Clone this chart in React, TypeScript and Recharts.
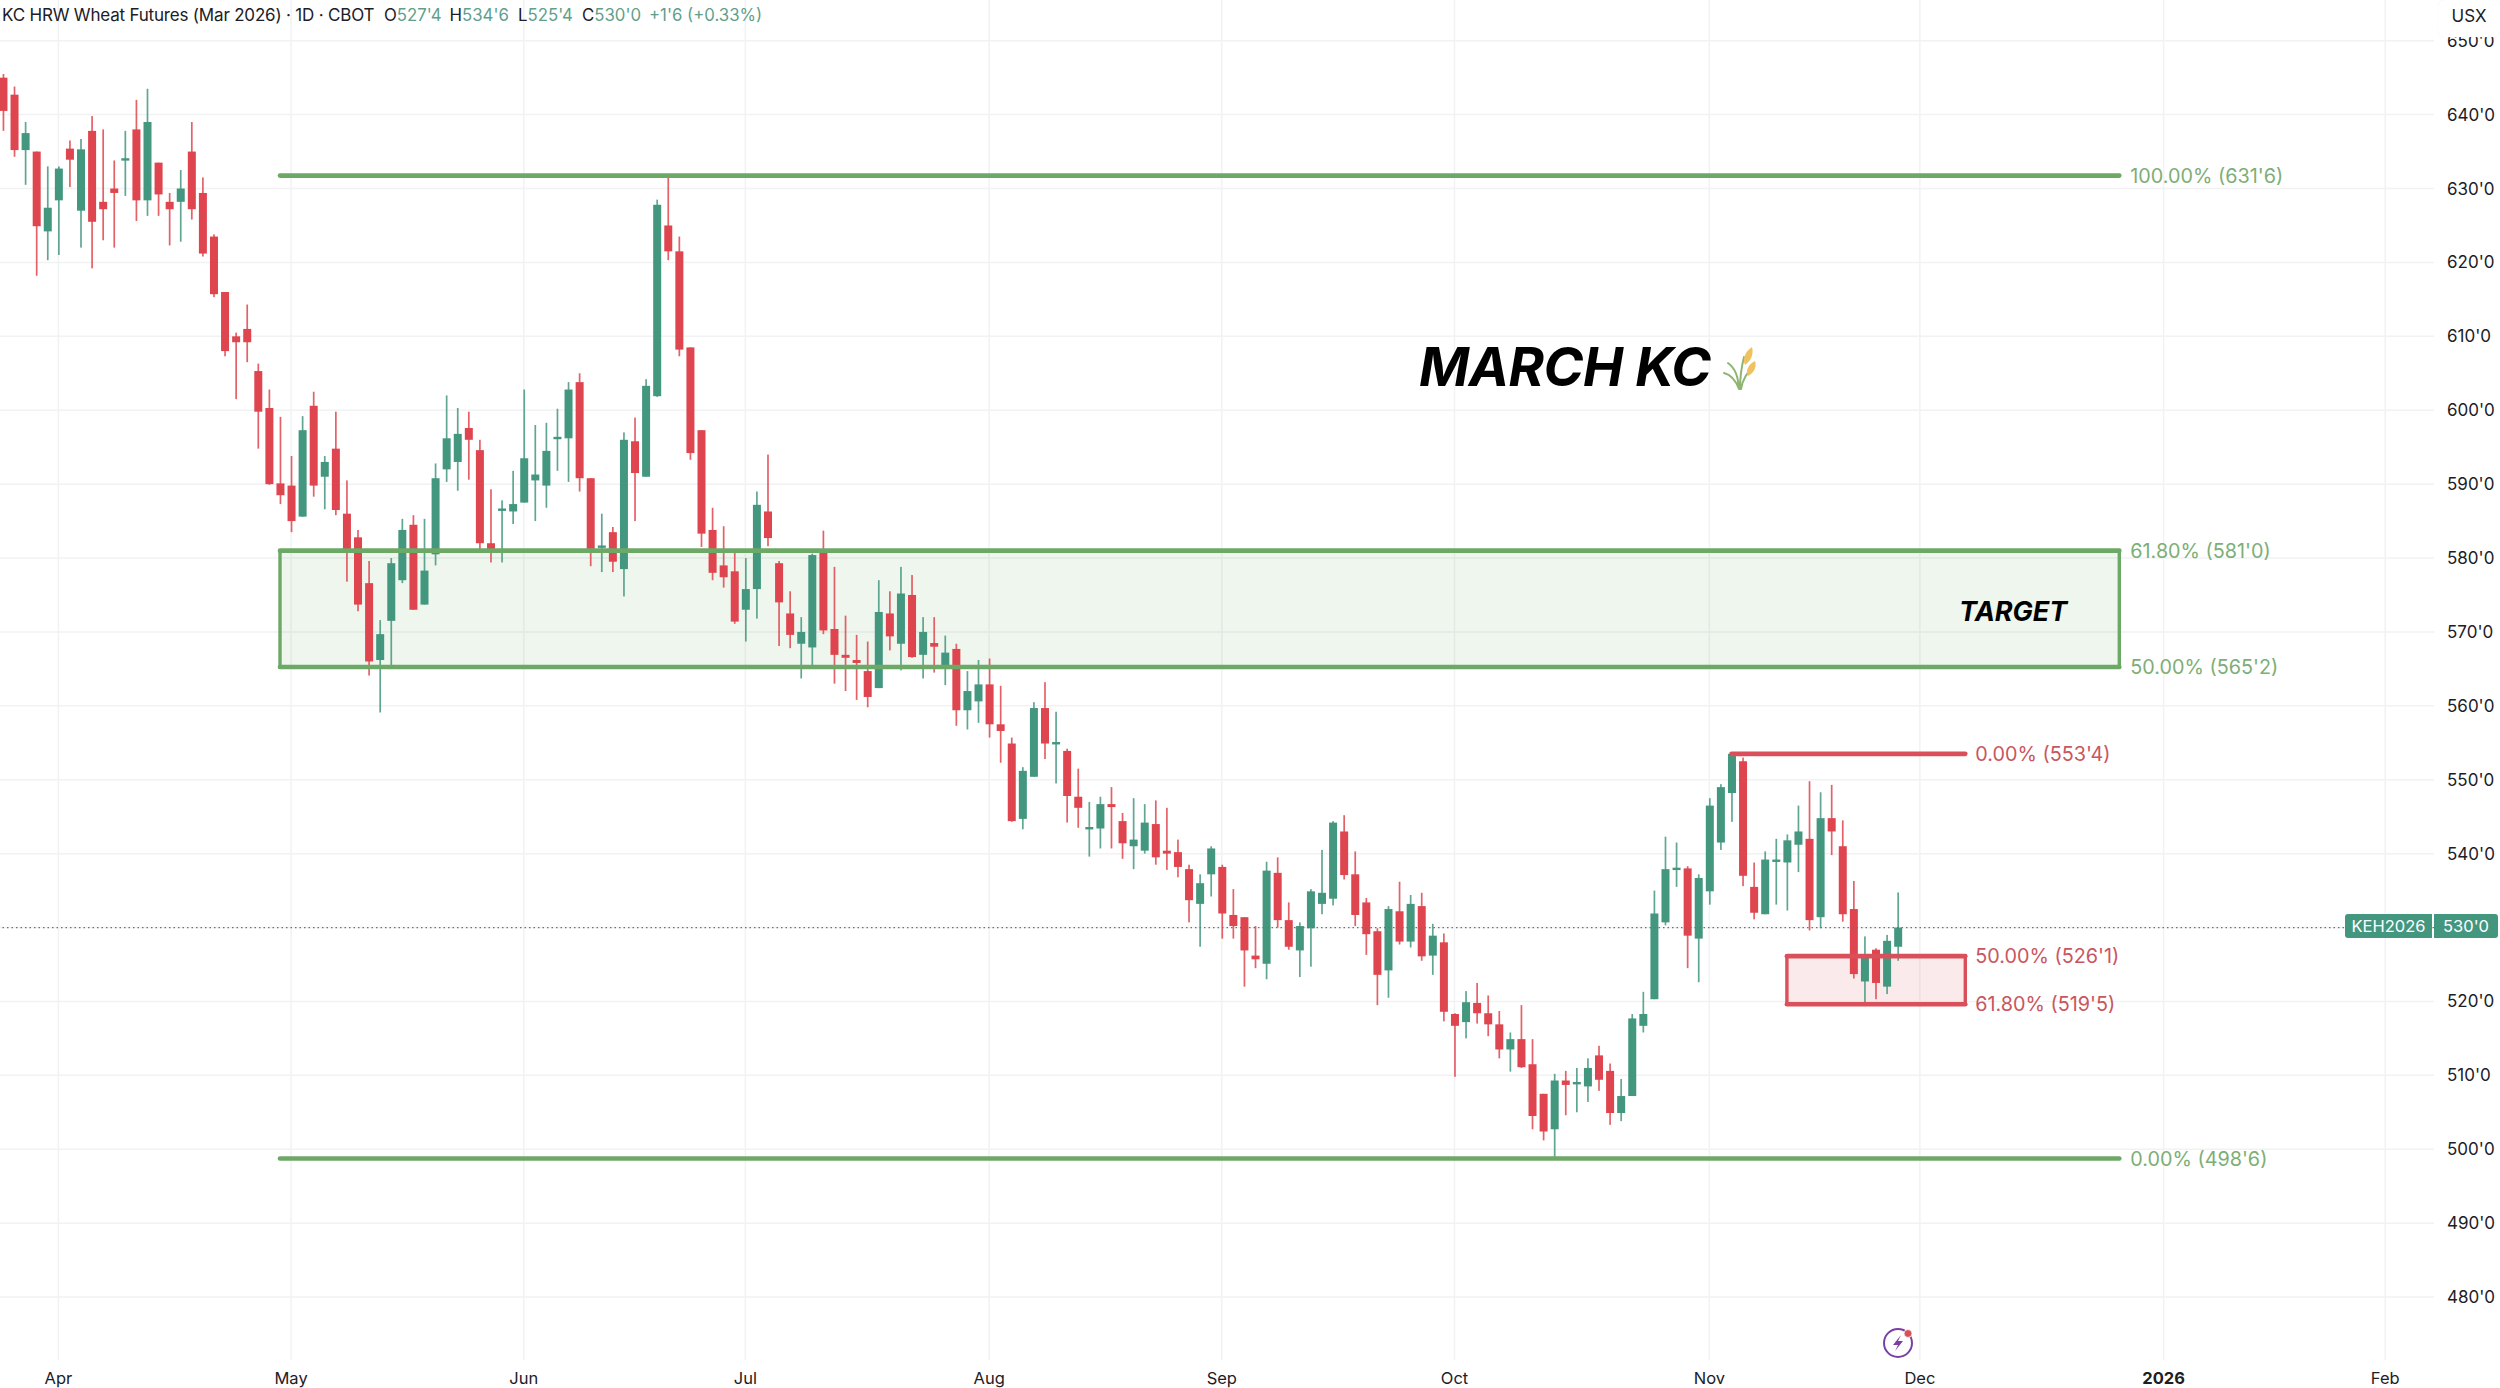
import {
  ComposedChart,
  Bar,
  XAxis,
  YAxis,
  CartesianGrid,
  ReferenceArea,
  ReferenceLine,
} from "recharts";

const FONT = "Inter, 'Noto Sans', sans-serif";
const UP = "#44977f";
const DOWN = "#df454e";
const FIB_GREEN = "#6ca866";
const FIB_RED = "#d9505a";

// one entry per daily session, first visible bar is mid March 2025
const opens = [
  645, 642.7, 635.2, 635, 624.2, 628.4, 635.4, 627, 637.8, 628.2, 630, 634, 638, 628.4, 633.5, 628.2, 628.2, 635, 629.4, 623.5,
  616, 610, 611, 605.3, 600.3, 590.1, 589.8, 585.6, 600.6, 591, 594.8, 586, 582.8, 576.6, 566.2, 571.5, 577, 584.5, 573.7, 580.5,
  592, 593, 597.6, 594.6, 582, 586.5, 586.3, 587.5, 590.5, 589.8, 596.2, 596.2, 603.8, 590.8, 581.5, 583.5, 578.5, 595.8, 591, 601.9,
  625, 621.5, 608.5, 597.3, 583.8, 579, 578.2, 573, 575.8, 586.3, 579.3, 572.5, 568.4, 567.9, 580.7, 570.4, 566.9, 566.2, 564.7, 562.4,
  572.5, 568.4, 575, 566.9, 568.5, 565, 567.7, 559.4, 560.6, 562.9, 557.5, 554.9, 544.7, 550.4, 559.7, 555, 553.9, 547.7, 543.4, 543.4,
  546.7, 544.4, 541, 540.4, 544, 540.4, 540.2, 537.9, 533.2, 537.2, 538.2, 531.7, 531.4, 526.2, 525.1, 537.4, 531, 526.9, 529.9, 533.2,
  533.9, 543, 537.2, 533.4, 529.5, 524.2, 532.2, 528.1, 532.9, 526.2, 528, 518.3, 517.2, 519.8, 518.4, 516.9, 513.5, 514.9, 511.5, 507.5,
  502.7, 509.3, 509, 508.5, 512.7, 510.6, 504.9, 507.2, 516.7, 520.3, 530.7, 538, 538, 528.5, 534.9, 541.5, 548.2, 552.5, 535.5, 531.8,
  539, 538.8, 541.2, 542, 531.4, 544.8, 541, 532.5, 522.7, 527, 522, 527.4,
];
const highs = [
  645.5, 643.8, 639, 635, 633, 633, 636.5, 636.7, 639.8, 638, 633.8, 637.8, 642, 643.5, 633.5, 629.4, 632.5, 639, 631.5, 623.8,
  616, 610.5, 614.3, 606.3, 602.8, 599.1, 593.8, 599.2, 602.5, 593.8, 599.8, 590.5, 583.8, 579.6, 571.6, 580, 585.3, 585.8, 585.3, 592.8,
  602, 600.3, 599.8, 596, 589.3, 587.8, 591.8, 602.8, 598, 598.3, 600.2, 603.8, 605, 590.8, 586, 584.2, 597, 599, 604.2, 628.5,
  631.75, 623.5, 608.5, 597.3, 586.8, 584.3, 580.9, 580, 589, 594, 579.6, 575.5, 572, 580.6, 583.7, 578.8, 572.2, 569.6, 568.7, 577,
  575.5, 578.8, 577.7, 572, 572, 569.5, 568.4, 564.7, 566.2, 566.4, 562.7, 555.7, 551.7, 560.5, 563.2, 559.2, 554.2, 551.5, 547, 547.7,
  549, 545.5, 547.5, 546.7, 547.2, 546.2, 541.9, 538.5, 537.2, 541, 538.5, 535.2, 531.4, 530.2, 538.9, 539.5, 533.4, 530.7, 535.2, 540.5,
  544.4, 545.2, 540.3, 534, 529.9, 532.9, 536.2, 534.4, 534.7, 530.5, 529.2, 518.4, 521.4, 522.5, 520.8, 518.7, 515.8, 519.5, 514.9, 507.5,
  510.2, 510.6, 511, 512.3, 514, 511.6, 509.5, 518.3, 521.3, 535, 542.3, 541.5, 538.3, 537.2, 547.5, 549.4, 553.5, 553, 538.8, 540.3,
  542, 542.6, 546.5, 549.8, 548.3, 549.3, 544.5, 536.3, 528.8, 527.2, 529, 534.75,
];
const lows = [
  637.8, 634.3, 630.5, 618.2, 620.3, 621, 630.2, 622, 619.2, 623, 622, 629, 625.6, 626.3, 626.3, 622.3, 622.8, 625.8, 620.8, 615.3,
  607.3, 601.5, 606.5, 594.8, 589.9, 587.3, 583.5, 585.6, 588.3, 586.6, 585.8, 576.8, 572.8, 564.1, 559.1, 565.4, 576.6, 573, 573.7, 579,
  590.3, 589.1, 590.6, 581.2, 579.4, 579.4, 584.6, 587.5, 585, 586.8, 591.8, 590.3, 589, 578.9, 578.1, 578.1, 574.8, 585, 591, 601.8,
  620.3, 607.3, 593.3, 581.5, 577, 576, 571.1, 568.7, 571.8, 581.6, 568.1, 567.8, 563.7, 565.4, 569.7, 563, 562, 560.8, 559.8, 562.4,
  567.5, 564.8, 566.5, 563.7, 564.5, 562.8, 557.3, 556.8, 557.7, 555.7, 552.3, 544.3, 543.3, 550.4, 552.8, 549.5, 544.2, 543.5, 539.6, 540.7,
  540.7, 539.3, 537.9, 540, 538.5, 537.8, 536.8, 530.7, 527.4, 534.2, 528.5, 528.5, 522, 524.5, 523, 530, 527, 523.3, 524.7, 531.8,
  533, 536.5, 530.2, 526.3, 519.5, 520.5, 527.7, 527.3, 525.5, 523.6, 517.3, 509.8, 515, 517, 515.3, 512.3, 510.5, 511, 502.7, 501.2,
  498.75, 504.6, 505, 506.4, 507.9, 503.3, 503.8, 507.2, 515.8, 520.3, 530.3, 535.5, 524.5, 522.6, 533.1, 540.5, 544.3, 535.6, 531.1, 531.8,
  533.1, 532.3, 537.5, 529.6, 529.9, 539.8, 530.8, 523.1, 519.8, 520.3, 521, 525.5,
];
const closes = [
  640.5, 635.2, 637.5, 624.9, 627.4, 632.7, 633.9, 635.3, 625.5, 627.2, 629.4, 634.1, 628.4, 639, 629.2, 627.2, 630, 627.2, 621.2, 615.7,
  608, 609.2, 609.2, 599.8, 590, 588.5, 585, 597.3, 589.8, 593, 586.5, 580.8, 573.7, 566, 569.7, 579.3, 583.8, 573, 578.3, 590.8,
  596.2, 596.8, 596, 582, 581.2, 586.7, 587.3, 593.5, 591.3, 594.5, 596.4, 602.8, 590.8, 580.8, 581.7, 579.5, 596, 591.5, 603.3, 627.8,
  621.5, 608.2, 594.2, 583.3, 578, 577.4, 571.4, 575.8, 587.2, 582.7, 574, 569.6, 570, 580.4, 570.2, 566.9, 566.5, 565.8, 561.2, 572.7,
  569.4, 575.2, 566.6, 570, 568, 567.2, 559.4, 562, 562.9, 557.5, 556.6, 544.4, 551.2, 559.7, 554.9, 555.1, 547.8, 546.2, 543.6, 546.7,
  546.3, 541.4, 541.9, 544.2, 539.5, 540, 538.2, 533.7, 536, 540.7, 531.9, 530.2, 526.9, 525.7, 537.7, 531, 527.4, 530.2, 534.9, 534.7,
  544.2, 537.1, 531.7, 529.1, 523.6, 532.5, 528.1, 533.2, 526.1, 528.9, 518.6, 516.7, 519.9, 518.4, 516.9, 513.5, 514.9, 511.1, 504.5, 502.4,
  509.3, 508.7, 509.1, 511, 509.4, 504.9, 507.2, 517.7, 518.3, 531.9, 537.9, 538.1, 528.9, 536.7, 546.5, 549, 553.5, 537, 532, 539.2,
  539.2, 541.8, 543, 531, 544.8, 543, 531.8, 523.7, 526.3, 522.5, 528.2, 530,
];

// axis ticks, x values are session numbers. 530 has no axis label, the price tag sits there
const gridPrices = [480, 490, 500, 510, 520, 530, 540, 550, 560, 570, 580, 590, 600, 610, 620, 630, 640, 650];
const priceTicks = [480, 490, 500, 510, 520, 540, 550, 560, 570, 580, 590, 600, 610, 620, 630, 640, 650];
const monthTicks = [5, 26, 47, 67, 89, 110, 131, 154, 173, 195, 215];
const monthLabels = ["Apr", "May", "Jun", "Jul", "Aug", "Sep", "Oct", "Nov", "Dec", "2026", "Feb"];

// fib levels drawn on the chart
const greenFibLevels = [631.75, 581, 565.25, 498.75];
const greenFibLabels = ["100.00% (631'6)", "61.80% (581'0)", "50.00% (565'2)", "0.00% (498'6)"];
const greenFibSpan = [25, 191];
const redFibLevels = [553.5, 526.125, 519.625];
const redFibLabels = ["0.00% (553'4)", "50.00% (526'1)", "61.80% (519'5)"];
const redFibStarts = [156, 161, 161];
const redFibEnd = 177.1;
const lastPrice = 530;

const candles = opens.map((open, i) => ({
  session: i,
  open,
  close: closes[i],
  high: highs[i],
  low: lows[i],
  range: [lows[i], highs[i]],
}));

const Candle = (props: any) => {
  const { x, y, width, height, payload } = props;
  const { open, close, high, low } = payload;
  const perUnit = height / (high - low);
  const color = close >= open ? UP : DOWN;
  const top = y + (high - Math.max(open, close)) * perUnit;
  const bodyHeight = Math.max(Math.abs(open - close) * perUnit, 2.4);
  const mid = x + width / 2;
  return (
    <g>
      <rect x={mid - 0.85} y={y} width={1.7} height={height} fill={color} fillOpacity={0.85} />
      <rect x={mid - 4} y={top} width={8} height={bodyHeight} fill={color} />
    </g>
  );
};

const headerStats = [
  { key: "O", value: "527'4", left: 384 },
  { key: "H", value: "534'6", left: 449.5 },
  { key: "L", value: "525'4", left: 518 },
  { key: "C", value: "530'0", left: 582 },
];

const MonthTick = (props: any) => {
  const { x, y, payload } = props;
  const label = monthLabels[monthTicks.indexOf(payload.value)];
  return (
    <text
      x={x}
      y={y}
      dy={16}
      textAnchor="middle"
      fontFamily={FONT}
      fontSize={16.5}
      fontWeight={label === "2026" ? 700 : 400}
      fill="#1c2026"
    >
      {label}
    </text>
  );
};

const fibLabel = (value: string, fill: string, offset: number) => ({
  value,
  position: "right" as const,
  fill,
  fontSize: 19.8,
  fontFamily: FONT,
  offset,
});

const App = () => {
  return (
    <div style={{ position: "fixed", left: 0, top: 0, width: 2500, height: 1388, background: "#fff", overflow: "hidden", fontFamily: FONT }}>
      <ComposedChart
        width={2500}
        height={1388}
        data={candles}
        margin={{ top: 0, right: 0, bottom: 0, left: 0 }}
        barSize={8}
      >
        <CartesianGrid
          stroke="#f1f2f4"
          strokeWidth={1.5}
          horizontalValues={gridPrices}
          verticalValues={monthTicks}
        />
        <XAxis
          dataKey="session"
          type="number"
          domain={[-0.27, 219.4]}
          allowDataOverflow
          ticks={monthTicks}
          interval={0}
          tick={<MonthTick />}
          axisLine={false}
          tickLine={false}
          height={28}
        />
        <YAxis
          orientation="right"
          type="number"
          domain={[471.48, 655.51]}
          allowDataOverflow
          ticks={priceTicks}
          interval={0}
          width={66}
          axisLine={false}
          tickLine={false}
          tickMargin={7}
          tick={{ fill: "#1c2026", fontSize: 17, fontFamily: FONT }}
          tickFormatter={(v: number) => `${v}'0`}
        />
        <ReferenceArea
          x1={greenFibSpan[0]}
          x2={greenFibSpan[1]}
          y1={greenFibLevels[2]}
          y2={greenFibLevels[1]}
          fill="#5aa84f"
          fillOpacity={0.1}
          stroke={FIB_GREEN}
          strokeWidth={3.4}
        />
        <ReferenceArea
          x1={redFibStarts[1]}
          x2={redFibEnd}
          y1={redFibLevels[2]}
          y2={redFibLevels[1]}
          fill="#d9505a"
          fillOpacity={0.12}
          stroke={FIB_RED}
          strokeWidth={3.4}
        />
        <ReferenceLine y={lastPrice} stroke="#5e7a72" strokeWidth={1.3} strokeDasharray="1.5 3" />
        {greenFibLevels.map((level, i) => (
          <ReferenceLine
            key={level}
            segment={[
              { x: greenFibSpan[0], y: level },
              { x: greenFibSpan[1], y: level },
            ]}
            stroke={FIB_GREEN}
            strokeWidth={4.6}
            strokeLinecap="round"
            label={fibLabel(greenFibLabels[i], "#7dae76", 11)}
          />
        ))}
        {redFibLevels.map((level, i) => (
          <ReferenceLine
            key={level}
            segment={[
              { x: redFibStarts[i], y: level },
              { x: redFibEnd, y: level },
            ]}
            stroke={FIB_RED}
            strokeWidth={4.6}
            strokeLinecap="round"
            label={fibLabel(redFibLabels[i], "#c9565f", 10)}
          />
        ))}
        <Bar dataKey="range" shape={<Candle />} isAnimationActive={false} />
      </ComposedChart>

      {/* header line */}
      <div style={{ position: "absolute", left: 2, top: 5, fontSize: 17, letterSpacing: -0.19, lineHeight: "20px", color: "#1c2026", whiteSpace: "nowrap" }}>
        KC HRW Wheat Futures (Mar 2026) · 1D · CBOT
      </div>
      {headerStats.map((s) => (
        <div key={s.key} style={{ position: "absolute", left: s.left, top: 5, fontSize: 16.8, lineHeight: "20px", color: "#1c2026", whiteSpace: "nowrap" }}>
          {s.key}
          <span style={{ color: "#5f9f8c" }}>{s.value}</span>
        </div>
      ))}
      <div style={{ position: "absolute", left: 649, top: 5, fontSize: 16.8, lineHeight: "20px", color: "#5f9f8c", whiteSpace: "nowrap" }}>
        +1'6 (+0.33%)
      </div>

      {/* scale unit */}
      <div style={{ position: "absolute", left: 2438, top: 0, width: 62, height: 37, background: "#fff", borderRadius: 6, boxShadow: "0 0 1px #e6e6e6", textAlign: "center", lineHeight: "32px", fontSize: 17, color: "#1c2026" }}>
        USX
      </div>

      {/* last price tag */}
      <div style={{ position: "absolute", left: 2345, top: 914, width: 87, height: 24, background: UP, borderRadius: "3px 0 0 3px", color: "#fff", fontSize: 16.5, lineHeight: "24px", textAlign: "center" }}>
        KEH2026
      </div>
      <div style={{ position: "absolute", left: 2434, top: 914, width: 64, height: 24, background: UP, borderRadius: "0 3px 3px 0", color: "#fff", fontSize: 16.5, lineHeight: "24px", textAlign: "center" }}>
        530'0
      </div>

      {/* annotations */}
      <div style={{ position: "absolute", left: 1419, top: 334, fontSize: 54, letterSpacing: -0.5, lineHeight: "66px", fontWeight: 700, fontStyle: "italic", color: "#000", whiteSpace: "nowrap" }}>
        MARCH KC
      </div>
      <svg style={{ position: "absolute", left: 1722, top: 345 }} width={38} height={46} viewBox="0 0 38 46">
        <path d="M17 44 C16 32 14 24 6 18 M18 44 C18 30 20 20 22 12 M19 44 C21 32 27 26 32 20 M17 44 C14 36 10 30 2 28" stroke="#8fb573" strokeWidth={2} fill="none" strokeLinecap="round" />
        <path d="M23 20 C20 13 24 6 30 2 C32 9 29 16 23 20 Z M26 31 C23 25 27 19 33 16 C35 22 32 28 26 31 Z" fill="#eec25f" />
      </svg>
      <div style={{ position: "absolute", left: 1959, top: 594, fontSize: 27, lineHeight: "36px", fontWeight: 700, fontStyle: "italic", color: "#000", whiteSpace: "nowrap" }}>
        TARGET
      </div>

      {/* news badge */}
      <svg style={{ position: "absolute", left: 1880, top: 1323 }} width={36} height={36} viewBox="0 0 36 36">
        <circle cx={18} cy={20} r={14} stroke="#7a3fa3" strokeWidth={2} fill="none" />
        <path d="M21 12 L13 22 H18 L15 28 L23 18 H18 Z" fill="#7a3fa3" />
        <circle cx={28} cy={10.5} r={4} fill="#d9505a" stroke="#fff" strokeWidth={0.8} />
      </svg>
    </div>
  );
};

export default App;
